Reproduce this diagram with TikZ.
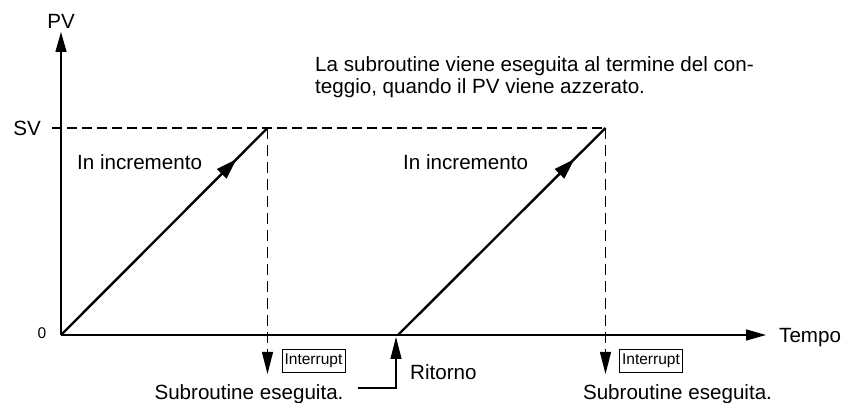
\documentclass[tikz,border=0pt]{standalone}
\usepackage{fontspec}
\setmainfont{Liberation Sans}
\usetikzlibrary{arrows.meta,decorations.markings}
\begin{document}
\begin{tikzpicture}[x=1pt,y=-1pt,
  lbl/.style={font=\fontsize{20.6}{21.5}\selectfont, inner sep=0pt},
  intbox/.style={draw, line width=0.9pt, font=\fontsize{15.5}{16}\selectfont, inner sep=0pt, minimum width=63pt, minimum height=23pt},
  axis/.style={line width=1.5pt, -{Triangle[length=20pt,width=11pt]}},
  ramp/.style={line width=2.4pt, postaction={decorate}, decoration={markings, mark=at position 0.85 with {\arrow{Triangle[length=21pt,width=13pt]}}}},
  guide/.style={line width=1.1pt, dash pattern=on 10pt off 5pt},
  downarr/.style={line width=1.1pt, dash pattern=on 11pt off 6pt, -{Triangle[length=22pt,width=11pt]}},
  retarr/.style={line width=1.2pt, -{Triangle[length=22pt,width=11pt]}}
]
\useasboundingbox (0,0) rectangle (844,403);

% coordinates
\coordinate (O) at (61,335);
\coordinate (Ytip) at (61,32);
\coordinate (Xtip) at (766,335);
\coordinate (SVl) at (52,128);
\coordinate (T1) at (267.5,128);
\coordinate (S2) at (398,335);
\coordinate (T2) at (605.5,128);
\coordinate (D1) at (267.5,374);
\coordinate (D2) at (605.5,374);
\coordinate (R0) at (358,388);
\coordinate (Rc) at (396,388);
\coordinate (Rt) at (396,337);

% guides
\draw[guide] (SVl) -- (T2);
\draw[downarr] (T1) -- (D1);
\draw[downarr] (T2) -- (D2);

% axes
\draw[axis] (O) -- (Ytip);
\draw[axis] (O) -- (Xtip);

% ramps
\draw[ramp] (O) -- (T1);
\draw[ramp] (S2) -- (T2);

% return arrow
\draw[retarr] (R0) -- (Rc) -- (Rt);

% labels
\node[lbl, anchor=base] (pv) at (61,29) {PV};
\node[lbl, anchor=base] (sv) at (27,135.5) {SV};
\node[lbl, font=\fontsize{15.5}{16}\selectfont, anchor=base] (zero) at (42,338.5) {0};
\node[lbl, anchor=base west] (tempo) at (779,343) {Tempo};
\node[lbl, anchor=base west] (inc1) at (77,170) {In incremento};
\node[lbl, anchor=base west] (inc2) at (403,170) {In incremento};
\node[lbl, anchor=base west] (note1) at (315,72) {La subroutine viene eseguita al termine del con-};
\node[lbl, anchor=base west] (note2) at (315,93.5) {teggio, quando il PV viene azzerato.};
\node[intbox] (int1) at (313.5,360.5) {Interrupt};
\node[intbox] (int2) at (651,360.5) {Interrupt};
\node[lbl, anchor=base] (sub1) at (249,400) {Subroutine eseguita.};
\node[lbl, anchor=base] (sub2) at (677.5,400) {Subroutine eseguita.};
\node[lbl, anchor=base west] (rit) at (410,380) {Ritorno};
\end{tikzpicture}
\end{document}
